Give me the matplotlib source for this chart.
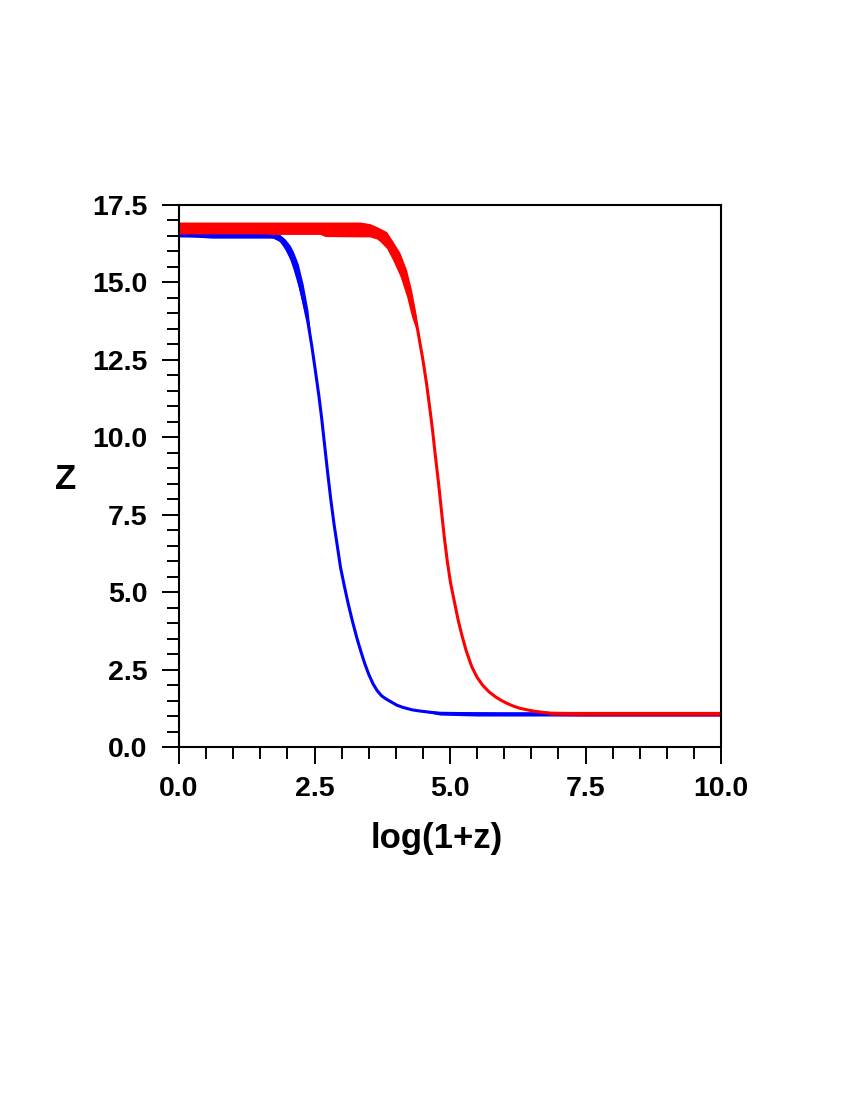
import matplotlib
matplotlib.use('Agg')
import matplotlib.pyplot as plt
from matplotlib.ticker import MultipleLocator

plt.rcParams['font.family'] = ['Liberation Sans', 'DejaVu Sans']
plt.rcParams['font.weight'] = 'bold'

# blue series: centre line
blue_x = [0.0, 1.0, 1.6, 1.75, 1.85, 1.95, 2.05, 2.12, 2.2, 2.29, 2.38, 2.45,
          2.52, 2.58, 2.63, 2.68, 2.74, 2.80, 2.86, 2.92, 2.98, 3.05, 3.12,
          3.2, 3.28, 3.36, 3.43, 3.5, 3.58, 3.66, 3.74, 3.82, 3.92, 4.02,
          4.13, 4.3, 4.45, 4.65, 4.82, 5.2, 6.0, 10.0]
blue_z = [16.5, 16.5, 16.5, 16.47, 16.4, 16.2, 15.9, 15.6, 15.15, 14.45, 13.7, 12.95,
          12.1, 11.35, 10.65, 9.85, 8.9, 8.0, 7.2, 6.5, 5.8, 5.2, 4.64,
          4.06, 3.53, 3.06, 2.68, 2.35, 2.04, 1.81, 1.65, 1.55, 1.45, 1.35,
          1.28, 1.2, 1.16, 1.12, 1.09, 1.08, 1.07, 1.07]
# blue spread band at the top
blue_band_x = [0.0, 0.6, 1.73, 1.86, 1.96, 2.05, 2.11, 2.2, 2.29, 2.38, 2.45]
blue_band_lo = [16.5, 16.43, 16.43, 16.32, 16.05, 15.72, 15.4, 14.86, 14.2, 13.57, 12.95]
blue_band_hi = [16.6, 16.6, 16.6, 16.55, 16.4, 16.2, 16.0, 15.6, 14.95, 14.1, 12.95]
# blue spread band at the bottom
blue_tail_x = [4.3, 4.82, 5.5, 10.0]
blue_tail_lo = [1.2, 1.03, 1.0, 1.0]
blue_tail_hi = [1.2, 1.14, 1.13, 1.13]

# red series: centre line
red_x = [0.0, 3.0, 3.34, 3.55, 3.7, 3.82, 3.92, 4.02, 4.12, 4.2, 4.28, 4.35,
         4.42, 4.5, 4.57, 4.63, 4.68, 4.73, 4.79, 4.85, 4.9, 4.95, 5.01,
         5.08, 5.15, 5.21, 5.3, 5.4, 5.5, 5.6, 5.72, 5.84, 5.95, 6.05,
         6.17, 6.29, 6.45, 6.6, 6.85, 7.2, 10.0]
red_z = [16.75, 16.75, 16.72, 16.63, 16.5, 16.3, 16.05, 15.75, 15.4, 15.0, 14.5, 14.0,
         13.3, 12.5, 11.7, 10.9, 10.2, 9.4, 8.5, 7.5, 6.7, 6.0, 5.3,
         4.7, 4.1, 3.67, 3.1, 2.6, 2.25, 2.0, 1.78, 1.62, 1.5, 1.41,
         1.32, 1.25, 1.19, 1.14, 1.09, 1.08, 1.08]
red_band_x = [0.0, 2.6, 2.7, 3.34, 3.52, 3.65, 3.71, 3.83, 3.95, 4.08, 4.2, 4.29, 4.35, 4.42]
red_band_lo = [16.55, 16.55, 16.48, 16.47, 16.47, 16.4, 16.32, 16.1, 15.7, 15.19, 14.54, 13.9, 13.6, 13.3]
red_band_hi = [16.95, 16.95, 16.95, 16.95, 16.9, 16.8, 16.75, 16.64, 16.32, 15.95, 15.4, 14.76, 14.2, 13.3]
red_tail_x = [6.3, 6.85, 7.5, 10.0]
red_tail_lo = [1.25, 1.02, 1.0, 1.0]
red_tail_hi = [1.25, 1.15, 1.15, 1.15]

x_ticks = [0.0, 2.5, 5.0, 7.5, 10.0]
z_ticks = [0.0, 2.5, 5.0, 7.5, 10.0, 12.5, 15.0, 17.5]

fig = plt.figure(figsize=(8.5, 11), dpi=100, facecolor='white')
ax = fig.add_axes([179 / 850, 1 - 747 / 1100, 542 / 850, 542 / 1100])

ax.fill_between(blue_band_x, blue_band_lo, blue_band_hi, color='#0000ff', lw=0)
ax.fill_between(blue_tail_x, blue_tail_lo, blue_tail_hi, color='#0000ff', lw=0)
ax.plot(blue_x, blue_z, color='#0000ff', lw=2.2, solid_joinstyle='round')

ax.fill_between(red_band_x, red_band_lo, red_band_hi, color='#ff0000', lw=0)
ax.fill_between(red_tail_x, red_tail_lo, red_tail_hi, color='#ff0000', lw=0)
ax.plot(red_x, red_z, color='#ff0000', lw=2.2, solid_joinstyle='round')

ax.set_xlim(0, 10)
ax.set_ylim(0, 17.5)
ax.set_xticks(x_ticks)
ax.set_yticks(z_ticks)
ax.set_xticklabels([f"{v:.1f}" for v in x_ticks])
ax.set_yticklabels([f"{v:.1f}" for v in z_ticks])
ax.xaxis.set_minor_locator(MultipleLocator(0.5))
ax.yaxis.set_minor_locator(MultipleLocator(0.5))

ax.tick_params(which='major', direction='out', length=12.2, width=1.4,
               labelsize=20.5, pad=9, top=False, right=False)
ax.tick_params(which='minor', direction='out', length=8.6, width=1.4,
               top=False, right=False)
ax.tick_params(axis='y', which='major', pad=10.5)
for lab in ax.get_xticklabels() + ax.get_yticklabels():
    lab.set_fontweight('bold')
for s in ax.spines.values():
    s.set_linewidth(1.5)

ax.set_xlabel("log(1+z)", fontsize=25, fontweight='bold')
ax.xaxis.set_label_coords(0.476, -0.138)
ax.set_ylabel("Z", fontsize=25, fontweight='bold', rotation=0, va='center', ha='center')
ax.yaxis.set_label_coords(-0.21, 0.493)

fig.savefig('out.png', dpi=100)
